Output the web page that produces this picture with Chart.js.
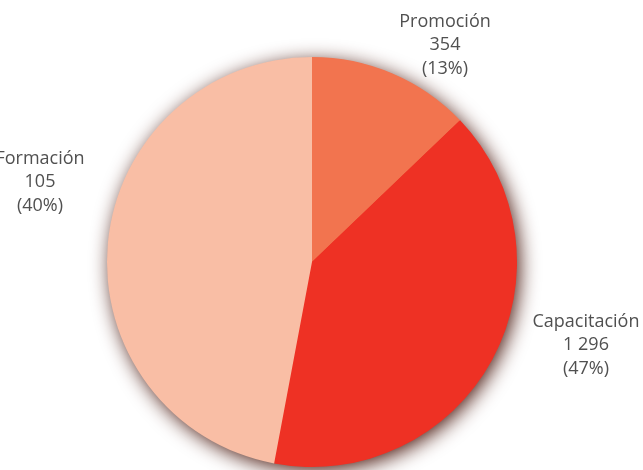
<!DOCTYPE html>
<html lang="es">
<head>
<meta charset="UTF-8">
<title>Pie</title>
<style>
  html, body { margin: 0; padding: 0; background: #fff; }
  #wrap { width: 643px; height: 470px; position: relative; }
</style>
</head>
<body>
<div id="wrap"><canvas id="grafico" width="643" height="470"></canvas></div>
<script src="https://cdn.jsdelivr.net/npm/chart.js"></script>
<script>
// Datos (las porciones tal como se ven dibujadas en la imagen)
const categorias = ['Promoción', 'Capacitación', 'Formación'];
const valores = [354, 1105, 1296];
const etiquetasCantidad = ['354', '1 296', '105'];
const etiquetasPorcentaje = ['(13%)', '(47%)', '(40%)'];
const colores = ['#F2744F', '#EE3124', '#F9BEA5'];

// posicion de cada etiqueta (linea central) relativa al centro del pastel
const posEtiquetas = [[133, -217], [274, 83], [-272, -80]];

// sombra detras del pastel
const sombra = {
  id: 'sombra',
  beforeDatasetsDraw(chart) {
    const arc = chart.getDatasetMeta(0).data[0];
    if (!arc) return;
    const ctx = chart.ctx;
    ctx.save();
    ctx.shadowColor = 'rgba(70, 20, 10, 1)';
    ctx.shadowBlur = 20;
    ctx.shadowOffsetX = 3;
    ctx.shadowOffsetY = 4;
    ctx.fillStyle = '#EE3124';
    ctx.beginPath();
    ctx.arc(arc.x, arc.y, arc.outerRadius - 1, 0, Math.PI * 2);
    ctx.fill();
    ctx.restore();
  }
};

const etiquetas = {
  id: 'etiquetas',
  afterDatasetsDraw(chart) {
    const arc = chart.getDatasetMeta(0).data[0];
    const ctx = chart.ctx;
    ctx.save();
    ctx.font = '18px "Open Sans"';
    ctx.fillStyle = '#505050';
    ctx.textAlign = 'center';
    ctx.textBaseline = 'middle';
    categorias.forEach((c, i) => {
      const x = arc.x + posEtiquetas[i][0];
      const y = arc.y + posEtiquetas[i][1];
      ctx.fillText(c, x, y - 23);
      ctx.fillText(etiquetasCantidad[i], x, y);
      ctx.fillText(etiquetasPorcentaje[i], x, y + 24);
    });
    ctx.restore();
  }
};

new Chart(document.getElementById('grafico'), {
  type: 'pie',
  data: {
    labels: categorias,
    datasets: [{
      data: valores,
      backgroundColor: colores,
      borderWidth: 0
    }]
  },
  options: {
    responsive: false,
    animation: false,
    layout: { padding: { left: 107, right: 126, top: 57, bottom: 3 } },
    plugins: {
      legend: { display: false },
      tooltip: { enabled: false }
    }
  },
  plugins: [sombra, etiquetas]
});
</script>
</body>
</html>
